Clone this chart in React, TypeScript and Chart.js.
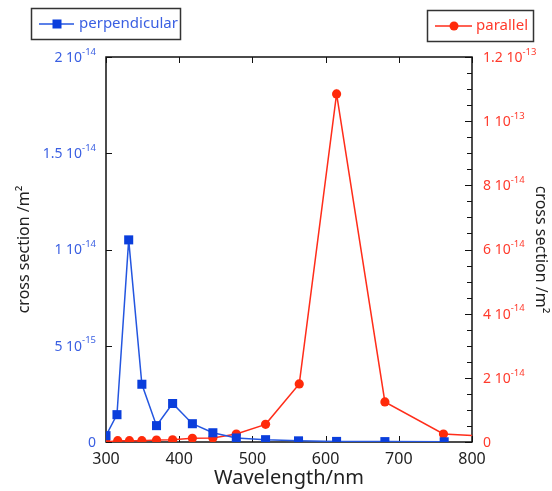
import React, { useEffect, useRef } from "react";
import { Chart, registerables } from "chart.js";

Chart.register(...registerables);

// ---- data ----
const perpWavelengths = [300, 315, 331, 349, 369, 391, 418, 446, 478, 518, 563, 615, 681, 762];
const perpendicular = [3.3e-16, 1.42e-15, 1.05e-14, 3.0e-15, 8.5e-16, 2.0e-15, 9.5e-16, 4.8e-16, 2.1e-16, 1.2e-16, 6e-17, 3e-17, 2e-17, 1e-17];

const paraWavelengths = [300, 316, 332, 349, 369, 391, 418, 446, 478, 518, 564, 615, 681, 761, 800];
const parallel = [0, 4e-16, 4e-16, 4e-16, 6e-16, 7e-16, 1.15e-15, 1.25e-15, 2.5e-15, 5.5e-15, 1.81e-14, 1.085e-13, 1.25e-14, 2.5e-15, 2.0e-15];

const xTickValues = [300, 400, 500, 600, 700, 800];
const leftTickValues = [0, 5e-15, 1e-14, 1.5e-14, 2e-14];
const leftTickLabels = ["0", "5 10^-15", "1 10^-14", "1.5 10^-14", "2 10^-14"];
const rightTickValues = [0, 2e-14, 4e-14, 6e-14, 8e-14, 1e-13, 1.2e-13];
const rightTickLabels = ["0", "2 10^-14", "4 10^-14", "6 10^-14", "8 10^-14", "1 10^-13", "1.2 10^-13"];
const rightMinorCount = 24; // minor ticks every 5e-15 across 0..1.2e-13

const FONT = '"Noto Sans", "DejaVu Sans", sans-serif';
const BLUE_LINE = "#2456e0";
const BLUE_MARK = "#0a3edc";
const BLUE_TEXT = "#3a5fe2";
const RED_LINE = "#ff2d1a";
const RED_MARK = "#ff2a0a";
const RED_TEXT = "#ff3a2c";

function drawSupLabel(ctx: CanvasRenderingContext2D, text: string, x: number, y: number, align: "left" | "right", color: string) {
  const [base, exp] = text.split("^");
  ctx.font = `14px ${FONT}`;
  const bw = ctx.measureText(base).width;
  ctx.font = `9.5px ${FONT}`;
  const ew = exp ? ctx.measureText(exp).width : 0;
  const x0 = align === "right" ? x - bw - ew : x;
  ctx.fillStyle = color;
  ctx.textAlign = "left";
  ctx.textBaseline = "middle";
  ctx.font = `14px ${FONT}`;
  ctx.fillText(base, x0, y + 1);
  if (exp) {
    ctx.font = `9.5px ${FONT}`;
    ctx.fillText(exp, x0 + bw, y - 5);
  }
}

const framePlugin = {
  id: "frame",
  beforeDatasetsDraw(chart: any) {
    const { ctx, chartArea: a, scales } = chart;
    const xs = scales.x, yl = scales.y, yr = scales.y2;
    ctx.save();
    ctx.strokeStyle = "#111";
    ctx.lineWidth = 1.5;
    ctx.strokeRect(a.left, a.top, a.right - a.left, a.bottom - a.top);
    ctx.lineWidth = 1;
    ctx.beginPath();
    for (const v of xTickValues) {
      const px = Math.round(xs.getPixelForValue(v)) + 0.5;
      ctx.moveTo(px, a.bottom);
      ctx.lineTo(px, a.bottom - 6);
      ctx.moveTo(px, a.top);
      ctx.lineTo(px, a.top + 6);
    }
    for (const v of leftTickValues) {
      const py = Math.round(yl.getPixelForValue(v)) + 0.5;
      ctx.moveTo(a.left, py);
      ctx.lineTo(a.left + 6, py);
    }
    const rMax = rightTickValues[rightTickValues.length - 1];
    for (let i = 0; i <= rightMinorCount; i++) {
      const py = Math.round(yr.getPixelForValue((rMax * i) / rightMinorCount)) + 0.5;
      const len = i % 4 === 0 ? 7 : 5;
      ctx.moveTo(a.right, py);
      ctx.lineTo(a.right - len, py);
    }
    ctx.stroke();
    ctx.restore();
  },
  afterDraw(chart: any) {
    const { ctx, chartArea: a, scales } = chart;
    const yl = scales.y, yr = scales.y2;
    ctx.save();
    leftTickValues.forEach((v, i) => {
      drawSupLabel(ctx, leftTickLabels[i], a.left - 10, yl.getPixelForValue(v), "right", BLUE_TEXT);
    });
    rightTickValues.forEach((v, i) => {
      drawSupLabel(ctx, rightTickLabels[i], a.right + 11, yr.getPixelForValue(v), "left", RED_TEXT);
    });

    // legend boxes
    ctx.lineWidth = 1.5;
    ctx.strokeStyle = "#333";
    ctx.strokeRect(31.5, 8.5, 149, 31);
    ctx.strokeRect(427.5, 10.5, 106, 31);

    ctx.lineWidth = 1.5;
    ctx.strokeStyle = BLUE_LINE;
    ctx.beginPath();
    ctx.moveTo(39, 24);
    ctx.lineTo(74, 24);
    ctx.stroke();
    ctx.fillStyle = BLUE_MARK;
    ctx.fillRect(52.5, 19.5, 9, 9);
    ctx.font = `15px ${FONT}`;
    ctx.textAlign = "left";
    ctx.textBaseline = "middle";
    ctx.fillStyle = BLUE_TEXT;
    ctx.fillText("perpendicular", 79, 24);

    ctx.strokeStyle = RED_LINE;
    ctx.beginPath();
    ctx.moveTo(435, 26);
    ctx.lineTo(472, 26);
    ctx.stroke();
    ctx.fillStyle = RED_MARK;
    ctx.beginPath();
    ctx.arc(454, 26, 4.5, 0, Math.PI * 2);
    ctx.fill();
    ctx.font = `15px ${FONT}`;
    ctx.fillStyle = RED_TEXT;
    ctx.fillText("parallel", 476, 26);
    ctx.restore();
  },
};

export default function App() {
  const ref = useRef<HTMLCanvasElement | null>(null);
  useEffect(() => {
    if (!ref.current) return;
    const chart = new Chart(ref.current, {
      type: "line",
      data: {
        datasets: [
          {
            label: "perpendicular",
            data: perpWavelengths.map((w, i) => ({ x: w, y: perpendicular[i] })),
            yAxisID: "y",
            borderColor: BLUE_LINE,
            backgroundColor: BLUE_MARK,
            borderWidth: 1.5,
            pointStyle: "rect",
            pointRadius: 6.4,
            pointBorderWidth: 0,
            tension: 0,
          },
          {
            label: "parallel",
            data: paraWavelengths.map((w, i) => ({ x: w, y: parallel[i] })),
            yAxisID: "y2",
            borderColor: RED_LINE,
            backgroundColor: RED_MARK,
            borderWidth: 1.5,
            pointStyle: "circle",
            pointRadius: (c: any) => (c.parsed && c.parsed.x >= 800 ? 0 : 4.6),
            pointBorderWidth: 0,
            tension: 0,
          },
        ],
      },
      options: {
        responsive: false,
        animation: false,
        layout: { padding: { top: 57, left: 0, right: 0, bottom: 0 } },
        plugins: { legend: { display: false }, tooltip: { enabled: false } },
        scales: {
          x: {
            type: "linear",
            min: 300,
            max: 800,
            grid: { display: false, drawTicks: false },
            border: { display: false },
            ticks: { stepSize: 100, padding: 8, color: "#222", font: { family: FONT, size: 16 } },
            title: { display: true, text: "Wavelength/nm", color: "#222", font: { family: FONT, size: 20 }, padding: { top: 0, bottom: 1 } },
            afterFit: (s: any) => { s.height = 49; },
          },
          y: {
            type: "linear",
            position: "left",
            min: 0,
            max: 2e-14,
            grid: { display: false, drawTicks: false },
            border: { display: false },
            ticks: { display: false },
            title: { display: true, text: "cross section /m²", color: "#222", font: { family: FONT, size: 16 }, padding: { top: 15, bottom: 0 } },
            afterFit: (s: any) => { s.width = 106; },
          },
          y2: {
            type: "linear",
            position: "right",
            min: 0,
            max: 1.2e-13,
            grid: { display: false, drawTicks: false },
            border: { display: false },
            ticks: { display: false },
            title: { display: true, text: "cross section /m²", color: "#222", font: { family: FONT, size: 16 }, padding: { top: 2, bottom: 0 } },
            afterFit: (s: any) => { s.width = 80; },
          },
        },
      },
      plugins: [framePlugin],
    } as any);
    return () => chart.destroy();
  }, []);
  return (
    <div style={{ position: "absolute", left: 0, top: 0, width: 552, height: 491, background: "#fff" }}>
      <canvas ref={ref} width={552} height={491} style={{ display: "block" }} />
    </div>
  );
}
